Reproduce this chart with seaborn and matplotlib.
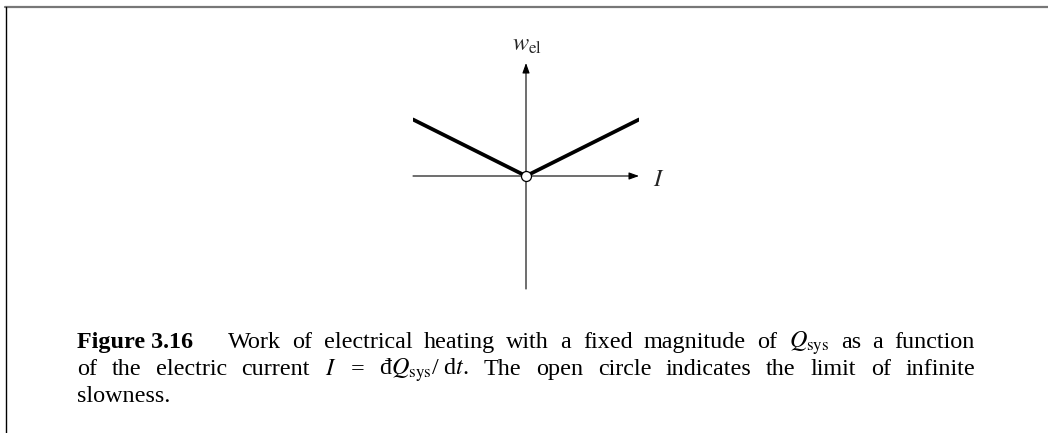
import matplotlib
matplotlib.use("Agg")
import matplotlib.pyplot as plt
from matplotlib.lines import Line2D
import seaborn as sns
import pandas as pd

# data: work of electrical heating vs current
current = [-1.0, 0.0, 1.0]
work = [0.5, 0.0, 0.5]
limit_point = [0.0, 0.0]

caption_lines = [
    ["Figure 3.16", "Work", "of", "electrical", "heating", "with", "a", "fixed", "magnitude",
     "of", r"$Q_{\mathrm{sys}}$", "as", "a", "function"],
    ["of", "the", "electric", "current", r"$I$", "=", r"đ$Q_{\mathrm{sys}}$/ d$t$.", "The", "open",
     "circle", "indicates", "the", "limit", "of", "infinite"],
    ["slowness."],
]

sns.set_theme(style="white")
plt.rcParams["font.family"] = ["Liberation Serif", "DejaVu Serif"]
plt.rcParams["mathtext.fontset"] = "stix"

W, H = 1048, 433
fig = plt.figure(figsize=(W / 100, H / 100), dpi=100)
ax = fig.add_axes([413 / W, (H - 289) / H, 226 / W, 226 / H])
ax.set_xlim(-1, 1)
ax.set_ylim(-1, 1)
ax.axis("off")

# axes with arrows
arrow = dict(arrowstyle="-|>,head_length=0.5,head_width=0.18", lw=0.8, color="black",
             shrinkA=0, shrinkB=0)
ax.annotate("", xy=(1, 0), xytext=(-1, 0), arrowprops=arrow)
ax.annotate("", xy=(0, 1), xytext=(0, -1), arrowprops=arrow)
ax.annotate(r"$I$", xy=(1, 0), xytext=(10, -7.5), textcoords="offset points",
            ha="left", va="baseline", fontsize=17.5)
ax.annotate(r"$w_{\mathrm{el}}$", xy=(0, 1), xytext=(1, 9), textcoords="offset points",
            ha="center", va="baseline", fontsize=17.5)

df = pd.DataFrame({"I": current, "w": work})
sns.lineplot(data=df, x="I", y="w", color="black", lw=2.7, ax=ax, solid_joinstyle="miter")
ax.plot(limit_point[0], limit_point[1], "o", ms=7.2, mfc="white", mec="black", mew=0.9, zorder=5)

# frame lines
fig.add_artist(Line2D([5 / W, 1], [1 - 7 / H, 1 - 7 / H], color="#777777", lw=1.6))
fig.add_artist(Line2D([5.5 / W, 5.5 / W], [0, 1 - 7 / H], color="black", lw=1.0))

# caption, justified word by word
x0, x1 = 77, 975
baselines = [348, 375, 402]
fs = 17.4
renderer = fig.canvas.get_renderer()
for i, (words, yb) in enumerate(zip(caption_lines, baselines)):
    texts = []
    for j, wd in enumerate(words):
        weight = "bold" if (i == 0 and j == 0) else "normal"
        texts.append(fig.text(x0 / W, 1 - yb / H, wd, fontsize=fs, fontweight=weight,
                              va="baseline", ha="left", color="black"))
    if len(words) == 1:
        continue
    widths = [t.get_window_extent(renderer).width for t in texts]
    gaps = [1.0] * (len(words) - 1)
    if i == 0:
        gaps[0] = 3.0
    unit = (x1 - x0 - sum(widths)) / sum(gaps)
    x = x0
    for k, (t, wdt) in enumerate(zip(texts, widths)):
        t.set_x(x / W)
        if k < len(gaps):
            x += wdt + gaps[k] * unit

fig.savefig("out.png", dpi=100)
